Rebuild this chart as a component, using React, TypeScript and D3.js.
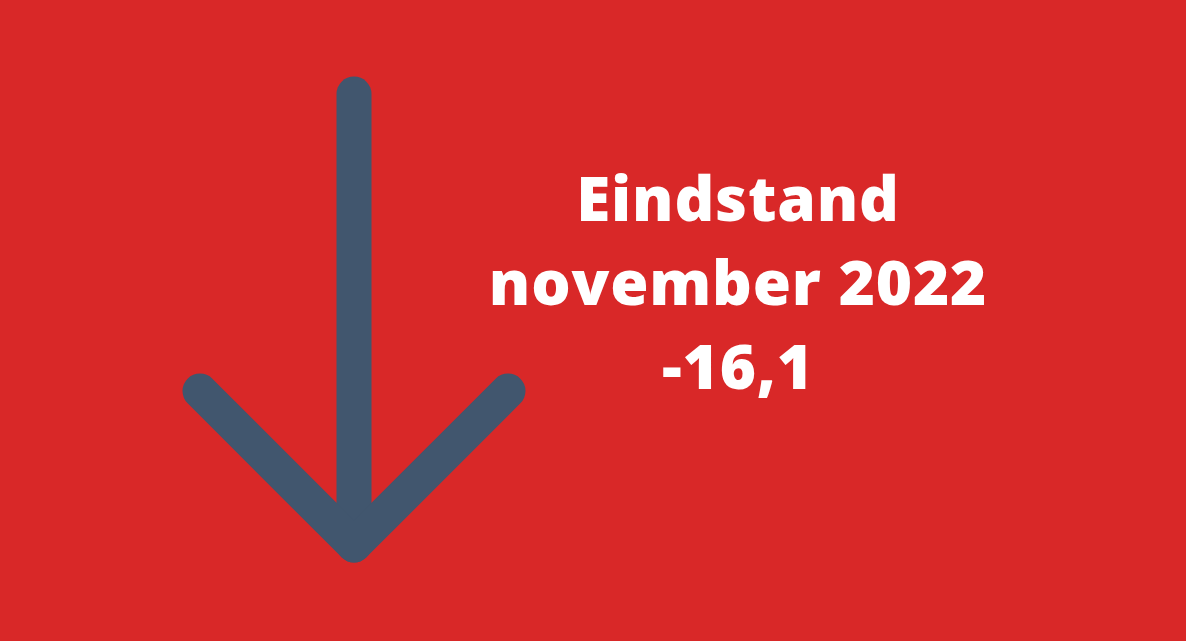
import React, { useRef, useEffect } from "react";
import * as d3 from "d3";

// labels and the value shown
const titleLines = ["Eindstand", "november 2022"];
const values = [-16.1];

const W = 1186;
const H = 641;

const nlFormat = d3.formatLocale({
    decimal: ",",
    thousands: ".",
    grouping: [3],
    currency: ["€", ""],
    minus: "-",
}).format(",.1f");

const App: React.FC = () => {
    const ref = useRef<SVGSVGElement | null>(null);

    useEffect(() => {
        if (!ref.current) return;
        const svg = d3.select(ref.current);
        svg.selectAll("*").remove();

        svg.append("rect")
            .attr("width", W)
            .attr("height", H)
            .attr("fill", "#d92828");

        // arrow: direction from sign of value
        const down = values[0] < 0;
        const y = d3.scaleLinear().domain([0, 1]).range(down ? [94, 545] : [545, 94]);
        const ax = 354;
        const wing = 154;

        const line = d3.line<[number, number]>();
        const g = svg.append("g")
            .attr("fill", "none")
            .attr("stroke", "#41566e")
            .attr("stroke-width", 35)
            .attr("stroke-linecap", "round")
            .attr("stroke-linejoin", "round");

        g.append("path").attr("d", line([[ax, y(0)], [ax, y(1)]]));
        const tip = y(1);
        const back = down ? tip - wing : tip + wing;
        g.append("path").attr("d", line([[ax - wing, back], [ax, tip], [ax + wing, back]]));

        // text block
        const lines = [...titleLines, nlFormat(values[0])];
        const ty = d3.scalePoint<number>().domain(lines.map((_, i) => i)).range([221, 389]);

        svg.append("g")
            .selectAll("text")
            .data(lines)
            .enter()
            .append("text")
            .attr("x", 738)
            .attr("y", (_, i) => ty(i)!)
            .attr("text-anchor", "middle")
            .attr("fill", "#ffffff")
            .attr("font-family", "'Open Sans', sans-serif")
            .attr("font-weight", 800)
            .attr("font-size", 62)
            .attr("letter-spacing", 0.8)
            .text(d => d);
    }, []);

    return (
        <div style={{ position: "fixed", left: 0, top: 0, width: W, height: H }}>
            <svg ref={ref} width={W} height={H} style={{ display: "block" }} />
        </div>
    );
};

export default App;
